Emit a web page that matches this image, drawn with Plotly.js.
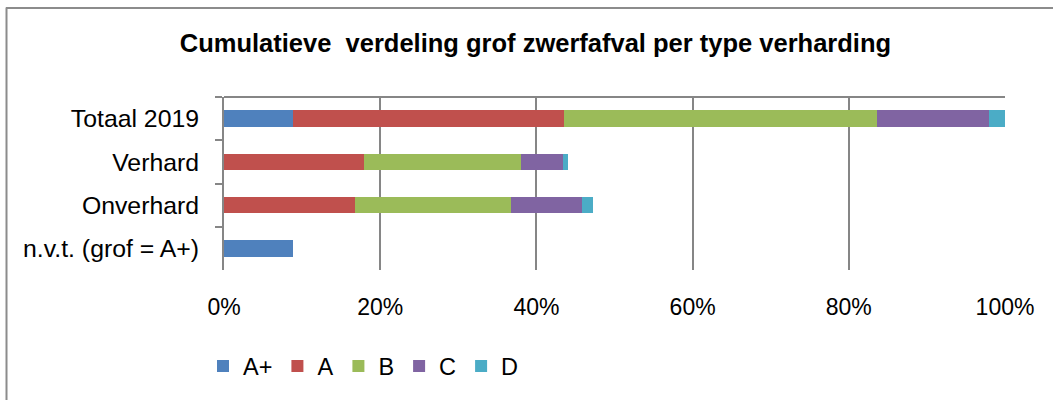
<!DOCTYPE html>
<html>
<head>
<meta charset="utf-8">
<script src="https://cdn.plot.ly/plotly-3.0.1.min.js"></script>
<style>
  html, body { margin: 0; padding: 0; background: #ffffff; }
  #chart { width: 1053px; height: 400px; }
</style>
</head>
<body>
<div id="chart"></div>
<script>
// Categories (top to bottom)
const categories = ['Totaal 2019', 'Verhard', 'Onverhard', 'n.v.t. (grof = A+)'];

// Series values (% share per category)
const seriesNames = ['A+', 'A', 'B', 'C', 'D'];
const valuesAplus = [8.8, 0, 0, 8.8];
const valuesA     = [34.7, 17.9, 16.8, 0];
const valuesB     = [40.1, 20.1, 20.0, 0];
const valuesC     = [14.4, 5.4, 9.0, 0];
const valuesD     = [2.0, 0.6, 1.4, 0];

const colors = ['#4F81BD', '#C0504D', '#9BBB59', '#8064A2', '#4BACC6'];

const xTickValues = [0, 20, 40, 60, 80, 100];
const xTickLabels = ['0%', '20%', '40%', '60%', '80%', '100%'];

const allValues = [valuesAplus, valuesA, valuesB, valuesC, valuesD];

const traces = allValues.map((vals, i) => ({
  type: 'bar',
  orientation: 'h',
  name: seriesNames[i],
  x: vals,
  y: categories,
  marker: { color: colors[i], line: { width: 0 } },
  hoverinfo: 'x+y+name'
}));

const L = 224, R = 48, T = 97, B = 127;
const W = 1053, H = 400;
const pw = W - L - R, ph = H - T - B;
const px = (x) => (x - L) / pw;
const py = (y) => (H - B - y) / ph;

const gray = '#868686';

const layout = {
  width: W,
  height: H,
  margin: { l: L, r: R, t: T, b: B, pad: 0 },
  paper_bgcolor: '#ffffff',
  plot_bgcolor: '#ffffff',
  font: { family: '"Liberation Sans", Arial, sans-serif', color: '#000000' },
  title: {
    text: '<b>Cumulatieve  verdeling grof zwerfafval per type verharding</b>',
    font: { size: 25.5, family: '"Liberation Sans", Arial, sans-serif', color: '#000000' },
    xref: 'container', x: 0.5085, xanchor: 'center',
    yref: 'container', y: 1 - 43 / 400, yanchor: 'middle'
  },
  barmode: 'stack',
  bargap: 0.614,
  showlegend: true,
  legend: {
    orientation: 'h',
    x: px(203), xanchor: 'left',
    y: py(371), yanchor: 'middle',
    font: { size: 23.5 },
    traceorder: 'normal',
    bgcolor: 'rgba(0,0,0,0)'
  },
  xaxis: {
    range: [0, 100],
    tickvals: xTickValues,
    ticktext: xTickLabels,
    showgrid: true,
    gridcolor: gray,
    gridwidth: 2,
    zeroline: false,
    showline: false,
    ticks: '',
    tickfont: { size: 23 },
    ticklabelstandoff: 21,
    fixedrange: true
  },
  yaxis: {
    type: 'category',
    categoryorder: 'array',
    categoryarray: categories,
    autorange: 'reversed',
    showline: true,
    linecolor: gray,
    linewidth: 2,
    ticks: 'outside',
    tickson: 'boundaries',
    ticklen: 7,
    tickwidth: 2,
    tickcolor: gray,
    showgrid: false,
    zeroline: false,
    tickfont: { size: 24.8 },
    ticklabelstandoff: 18,
    fixedrange: true
  },
  shapes: [
    // plot area top border
    { type: 'line', xref: 'paper', yref: 'paper', x0: 0, x1: 1, y0: 1, y1: 1,
      line: { color: gray, width: 2 } },
    // outer chart border (left and top edges visible)
    { type: 'line', xref: 'paper', yref: 'paper', x0: px(6.5), x1: px(6.5), y0: py(6), y1: py(420),
      line: { color: '#8c8c8c', width: 2 } },
    { type: 'line', xref: 'paper', yref: 'paper', x0: px(6), x1: px(1080), y0: py(6.5), y1: py(6.5),
      line: { color: '#8c8c8c', width: 2 } }
  ]
};

Plotly.newPlot('chart', traces, layout, { displayModeBar: false, staticPlot: true });
</script>
</body>
</html>
